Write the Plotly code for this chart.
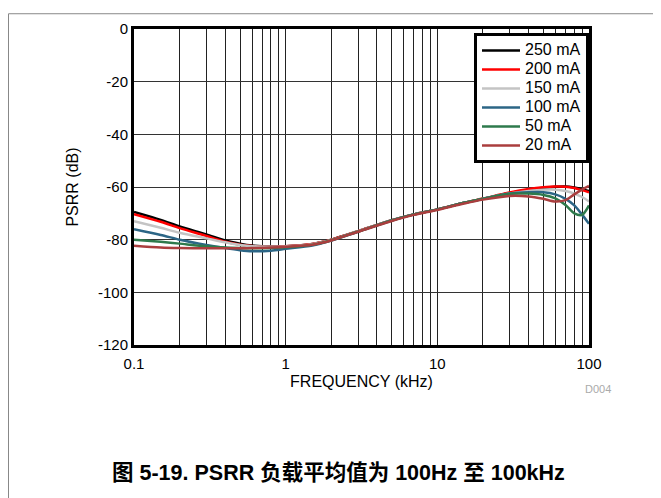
import plotly.graph_objects as go

freq_khz = [0.1, 0.15, 0.2, 0.3, 0.4, 0.5, 0.6, 0.8, 1, 1.5, 2, 3, 5, 7, 10, 15, 20, 30, 40, 50, 60, 70, 80, 90, 100]

psrr_250 = [-69.5, -72.5, -75.0, -78.0, -80.3, -81.5, -82.2, -82.6, -82.5, -81.6, -80.0, -76.8, -72.6, -70.4, -68.5, -66.0, -64.5, -62.3, -61.0, -60.3, -59.9, -59.8, -60.2, -60.8, -61.5]
psrr_200 = [-70.3, -73.2, -75.6, -78.6, -80.8, -81.9, -82.4, -82.7, -82.5, -81.6, -80.0, -76.8, -72.6, -70.4, -68.5, -66.0, -64.4, -62.1, -60.8, -60.1, -59.8, -59.9, -60.4, -61.2, -62.0]
psrr_150 = [-73.0, -75.5, -77.4, -79.5, -81.0, -82.0, -82.5, -82.7, -82.6, -81.7, -80.1, -76.8, -72.6, -70.4, -68.5, -66.0, -64.5, -62.5, -61.5, -61.0, -61.0, -61.5, -62.5, -63.8, -65.5]
psrr_100 = [-76.0, -78.2, -80.0, -82.0, -83.2, -84.0, -84.4, -84.2, -83.5, -82.2, -80.3, -77.0, -72.7, -70.4, -68.5, -66.0, -64.5, -62.5, -62.0, -62.0, -62.8, -64.5, -67.0, -70.5, -74.0]
psrr_50 = [-80.0, -80.8, -81.5, -82.5, -83.0, -83.2, -83.3, -83.2, -82.9, -81.9, -80.2, -76.9, -72.7, -70.4, -68.5, -66.0, -64.5, -62.6, -62.5, -63.0, -64.3, -66.8, -70.0, -70.6, -67.0]
psrr_20 = [-82.3, -83.0, -83.2, -83.3, -83.3, -83.3, -83.2, -83.0, -82.7, -81.9, -80.3, -77.0, -72.9, -70.6, -68.7, -66.3, -64.8, -63.4, -63.6, -64.5, -65.5, -65.0, -62.8, -61.0, -59.6]

series_names = ["250 mA", "200 mA", "150 mA", "100 mA", "50 mA", "20 mA"]
series_values = [psrr_250, psrr_200, psrr_150, psrr_100, psrr_50, psrr_20]
series_colors = ["#000000", "#ff0000", "#c4c4c4", "#2c6686", "#2e7a4c", "#aa3e3e"]

x_tickvals = [0.1, 1, 10, 100]
x_ticktext = ["0.1", "1", "10", "100"]
y_tickvals = [0, -20, -40, -60, -80, -100, -120]
y_ticktext = ["0", "-20", "-40", "-60", "-80", "-100", "-120"]
minor_x = [m * d for d in (0.1, 1, 10) for m in range(2, 10)]

fig = go.Figure()
for name, vals, col in zip(series_names, series_values, series_colors):
    fig.add_trace(go.Scatter(x=freq_khz, y=vals, mode="lines",
                             name='<span style="font-size:16px">%s</span>' % name,
                             line=dict(color=col, width=2.5, shape="spline", smoothing=0.8)))

font_main = "Liberation Sans, Arial, sans-serif"

# page body has an 8px offset; plot area spans x 134..589, y 24..345 in the window
W, H = 653, 490
L, T = 126, 16
PW, PH = 455, 321

def px(xw):
    return (xw - 8 - L) / PW

def py(yw):
    return 1 - (yw - 8 - T) / PH

fig.update_layout(
    width=W, height=H,
    margin=dict(l=L, r=W - L - PW, t=T, b=H - T - PH),
    paper_bgcolor="white", plot_bgcolor="white",
    font=dict(family=font_main, color="black", size=15),
    showlegend=True,
    legend=dict(x=px(589), y=py(28), xanchor="right", yanchor="top",
                bgcolor="white", bordercolor="black", borderwidth=3,
                font=dict(size=12, family=font_main), tracegroupgap=0,
                itemwidth=38),
    xaxis=dict(type="log", range=[-1, 2], tickvals=x_tickvals, ticktext=x_ticktext,
               showgrid=True, gridcolor="#222", gridwidth=1,
               minor=dict(tickmode="array", tickvals=minor_x, showgrid=True, gridcolor="#222", gridwidth=1, ticks=""),
               showline=True, linecolor="black", linewidth=3, mirror=True,
               ticks="", tickfont=dict(size=15), ticklabelstandoff=3,
               title=dict(text="FREQUENCY (kHz)", font=dict(size=16), standoff=5),
               zeroline=False),
    yaxis=dict(range=[-120, 0], tickvals=y_tickvals, ticktext=y_ticktext,
               showgrid=True, gridcolor="#333", gridwidth=1,
               showline=True, linecolor="black", linewidth=3, mirror=True,
               ticks="", tickfont=dict(size=15),
               title=dict(text="PSRR (dB)", font=dict(size=16), standoff=16),
               zeroline=False),
)

# outer page border lines
fig.add_shape(type="line", xref="paper", yref="paper",
              x0=px(8.5), x1=px(700), y0=py(8.5), y1=py(8.5),
              line=dict(color="#888", width=1))
fig.add_shape(type="line", xref="paper", yref="paper",
              x0=px(8.5), x1=px(8.5), y0=py(8.5), y1=py(520),
              line=dict(color="#888", width=1))

fig.add_annotation(text="D004", xref="paper", yref="paper",
                   x=px(598), y=py(390), xanchor="center", yanchor="middle", showarrow=False,
                   font=dict(size=11, color="#aaaaaa", family=font_main))

fig.add_annotation(text="<b>图 5-19. PSRR 负载平均值为 100Hz 至 100kHz</b>", xref="paper", yref="paper",
                   x=px(338), y=py(475), xanchor="center", yanchor="middle", showarrow=False,
                   font=dict(size=21.5, color="black", family="Liberation Sans, Noto Sans CJK SC, sans-serif"))

fig.write_html("out.html")
